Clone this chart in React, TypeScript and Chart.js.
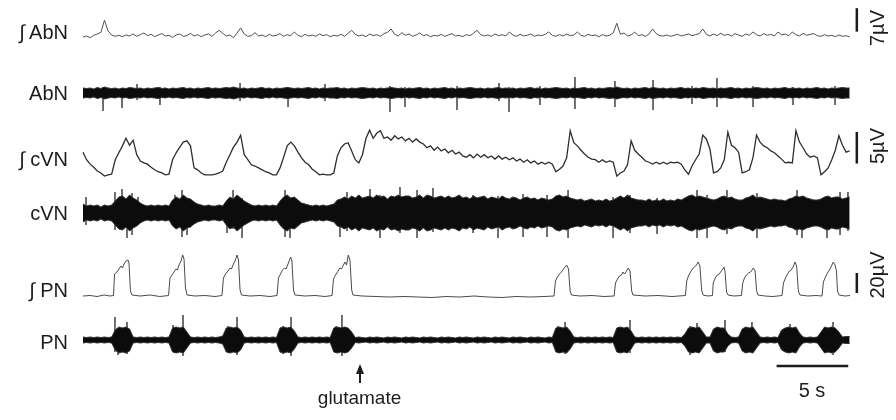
import React, { useEffect, useRef } from "react";
import { Chart, registerables } from "chart.js";

Chart.register(...registerables);

// ---------- DATA (time in s, integrated traces in µV, raw traces in arbitrary units) ----------
const SAMPLE_DT = 0.25; // sampling interval of the uniformly sampled arrays (s)

// ∫AbN (µV), one value every 0.25 s
const intAbN = [
  0.0, 0.3, -0.2, 0.5, 0.9, 1.4, 5.0, 1.8, 0.6, 0.2,
  0.5, 0.1, 0.6, 0.3, 0.9, 0.2, 0.7, 1.2, 0.4, 0.8,
  0.1, 0.6, 1.0, 0.3, 0.5, -0.1, 0.6, 0.9, 0.2, 0.4,
  1.1, 0.3, 0.7, 0.1, 0.6, 0.9, 0.2, 1.2, 2.0, 1.1,
  0.3, 0.6, -0.2, 1.2, 2.7, 0.9, 0.2, 0.4, 1.3, 0.3,
  0.6, 0.1, 0.8, 0.3, 0.5, 1.0, 0.2, 0.7, 0.4, 1.5,
  0.5, 0.1, 0.8, 0.3, 0.6, 0.2, 0.9, 0.4, 0.7, 0.1,
  0.5, 0.3, 0.8, 0.2, 1.1, 2.0, 0.8, 0.3, 0.6, 0.1,
  0.9, 0.4, 0.7, 0.2, 1.0, 1.4, 2.4, 0.8, 0.3, 1.3,
  0.5, 0.9, 0.2, 0.6, 1.2, 0.4, 0.7, 0.1, 0.5, 0.3,
  0.8, 0.2, 0.6, 1.0, 0.3, 0.5, 0.1, 0.7, 0.4, 1.1,
  2.0, 0.7, 0.3, 0.6, 0.2, 0.9, 0.4, 0.7, 0.3, 1.5,
  0.6, 0.2, 0.8, 0.3, 0.5, 0.9, 0.2, 0.6, 0.4, 0.8,
  1.5, 0.5, 0.2, 0.7, 0.3, 0.9, 0.4, 0.6, 1.5, 0.5,
  0.2, 0.8, 0.4, 0.6, 0.1, 0.7, 0.3, 0.5, 1.2, 4.1,
  0.8, 1.2, 0.3, 0.6, 1.5, 0.4, 0.7, 0.2, 0.9, 2.4,
  1.0, 0.4, 0.3, 0.6, 0.2, 0.5, 0.8, 0.3, 0.6, 0.9,
  0.4, 0.7, 1.0, 2.4, 0.8, 0.3, 0.9, 0.4, 1.1, 0.5,
  0.8, 0.3, 1.0, 0.6, 0.2, 0.9, 0.5, 1.5, 0.7, 0.3,
  1.0, 0.5, 0.8, 0.3, 1.5, 0.6, 0.9, 0.4, 1.5, 0.7,
  0.3, 1.1, 0.5, 0.8, 1.0, 0.4, 0.2, 0.7, 0.3, 0.5,
  0.1, 0.6, 0.2, 0.4, 0.0,
];

// AbN raw: dense-band half amplitude every 0.25 s
const abnBand = [
  5, 4.5, 5, 4, 5.5, 4.5, 6, 5, 4.5, 5, 4, 5, 4.5, 5.5, 5, 4.5, 5, 4, 5, 4.5,
  5, 5.5, 4.5, 5, 4, 5, 4.5, 5, 5.5, 4.5, 5, 4, 5, 4.5, 5, 5.5, 4.5, 5, 4.5, 5,
  5.5, 5, 6, 5, 4.5, 5, 4, 5, 4.5, 5, 5.5, 4.5, 5, 4, 5, 4.5, 5, 5.5, 5, 4.5,
  5, 4.5, 5, 5.5, 4.5, 5, 4, 5, 4.5, 5, 5, 5.5, 4.5, 5, 4, 5, 4.5, 5, 5.5, 5,
  4.5, 5, 4, 5, 4.5, 5, 5.5, 5, 4.5, 5, 4, 5, 4.5, 5, 5.5, 4.5, 5, 4, 5, 4.5,
  5, 5.5, 4.5, 5, 4, 5, 4.5, 5, 5.5, 5, 4.5, 5, 4, 5, 4.5, 5, 5.5, 4.5, 5, 4.5,
  5, 4, 5, 4.5, 5, 5.5, 4.5, 5, 4, 5, 4.5, 5, 5.5, 5, 4.5, 5, 4, 5, 4.5, 5,
  5.5, 4.5, 5, 4, 5, 4.5, 5, 5.5, 5, 6, 5, 4.5, 5, 4, 5, 4.5, 5, 5.5, 4.5, 5.5,
  5, 4.5, 5, 4, 5, 4.5, 5, 5.5, 4.5, 5, 4, 5, 4.5, 5.5, 5, 4.5, 5, 4, 5, 4.5,
  5, 5.5, 4.5, 5, 4, 5, 4.5, 5, 5.5, 5, 4.5, 5, 4, 5, 4.5, 5, 5.5, 4.5, 5, 4.5,
  5, 4, 5, 4.5, 5, 5.5, 4.5, 5, 4, 5, 4.5, 5, 5.5, 5, 5,
];
// AbN single large spikes: time (s), upward and downward extent
const abnSpikeTimes = [1.4, 2.72, 3.77, 5.37, 10.96, 14.31, 16.89, 21.42, 22.47, 26.1, 29.03, 29.73, 31.89, 34.33, 37.12, 39.78, 42.5, 44.24, 46.76, 49.55, 52.48];
const abnSpikeUp = [6, 5, 9, 6, 10, 6, 9, 7, 6, 7, 10, 6, 7, 16, 12, 13, 7, 15, 7, 6, 7];
const abnSpikeDown = [-18, -15, -7, -12, -8, -14, -8, -19, -14, -17, -8, -19, -12, -16, -14, -17, -11, -14, -14, -12, -12];

// ∫cVN (µV), one value every 0.25 s
const intCvn = [
  4.1, 2.9, 2.2, 1.7, 1.1, 0.8, 0.3, 0.5, 0.6, 2.9,
  4.0, 5.1, 6.3, 5.2, 6.0, 3.7, 2.7, 2.4, 2.2, 1.7,
  1.3, 1.0, 0.8, 0.5, 0.6, 2.9, 4.0, 4.9, 5.7, 5.9,
  5.1, 1.6, 1.3, 0.8, 0.5, 0.5, 0.5, 0.6, 0.8, 1.1,
  2.5, 3.7, 4.9, 5.7, 6.8, 3.7, 2.9, 2.1, 1.9, 1.6,
  1.3, 1.0, 0.8, 0.5, 0.5, 1.6, 3.3, 5.1, 5.7, 5.1,
  4.1, 3.2, 2.5, 2.1, 1.4, 1.0, 0.5, 0.6, 0.5, 0.5,
  0.8, 3.5, 4.8, 5.4, 5.6, 4.3, 2.9, 2.4, 3.7, 6.3,
  7.6, 6.3, 7.1, 7.5, 6.3, 6.5, 6.0, 6.7, 6.2, 6.5,
  5.9, 6.3, 5.7, 6.2, 5.7, 5.4, 4.8, 5.1, 4.4, 4.9,
  4.3, 4.6, 4.0, 4.4, 3.8, 4.1, 3.5, 3.3, 3.7, 3.2,
  3.8, 3.3, 3.7, 3.2, 3.5, 3.0, 3.5, 3.0, 3.3, 2.9,
  3.2, 2.7, 3.0, 2.5, 2.9, 2.4, 2.7, 2.2, 2.5, 2.2,
  2.5, 2.2, 1.0, 1.4, 1.9, 3.2, 7.5, 5.6, 5.1, 4.4,
  3.8, 3.3, 3.0, 2.9, 2.5, 2.9, 2.5, 2.7, 2.5, 0.3,
  0.8, 1.1, 2.1, 5.9, 4.4, 3.8, 3.3, 2.7, 2.5, 2.2,
  2.5, 2.2, 2.5, 2.2, 2.5, 2.4, 2.5, 2.2, 1.3, 0.6,
  1.9, 2.9, 3.8, 6.8, 6.2, 4.6, 0.8, 1.0, 1.6, 2.9,
  7.3, 5.2, 4.8, 4.1, 0.8, 1.0, 1.3, 3.2, 6.8, 5.7,
  5.1, 4.8, 4.3, 4.0, 3.5, 3.0, 2.4, 2.5, 2.4, 7.5,
  5.7, 4.8, 3.8, 3.3, 3.5, 3.2, 0.5, 1.0, 1.6, 2.9,
  4.4, 6.7, 5.2, 4.1, 4.3,
];

// cVN raw: dense-band half amplitude every 0.25 s
const cvnBand = [
  9, 7, 8, 7, 8, 6, 8, 7, 8,
  12, 16, 17, 14, 18, 15, 13, 10,
  8, 7, 8, 7, 8, 7, 8, 7,
  13, 16, 14, 18, 15, 14, 11, 9,
  8, 7, 8, 7, 7, 8, 7,
  12, 16, 14, 18, 15, 12, 10,
  8, 7, 8, 7, 8, 7, 8, 7,
  12, 16, 18, 15, 16, 13, 10, 9,
  8, 7, 8, 7, 8, 7, 8, 9,
  13, 14, 16, 14, 17, 15, 18, 15, 16, 17,
  15, 18, 16, 17, 14, 17, 16, 18, 16, 17,
  17, 15, 16, 18, 15, 18, 17, 15, 16, 17,
  15, 17, 15, 16, 18, 15, 16, 14, 17, 15,
  16, 17, 14, 16, 15, 14, 17, 15, 14, 16,
  15, 13, 15, 16, 14, 15, 13, 15, 14, 13,
  14,
  17, 18, 16, 17, 15, 14,
  13, 14, 12, 13, 14, 12, 13, 12, 14, 12, 13,
  15, 17, 15, 18, 15, 14, 13,
  13, 12, 14, 12, 13, 12, 14, 12, 13, 12, 14, 13,
  15, 17, 18, 16, 17, 16, 15, 14, 13,
  14, 16, 17, 15, 16, 14, 13, 13,
  15, 16, 18, 15, 16, 15, 14, 13, 14, 13,
  13, 12, 14,
  15, 17, 16, 17, 15, 14, 13, 13,
  14, 16, 17, 15, 16, 16, 14, 15, 16,
];
const cvnSpikeTimes = [0.21, 2.23, 2.72, 3.07, 3.42, 3.84, 6.42, 6.91, 7.26, 10.05, 10.47, 11.1, 14.1, 14.45, 17.93, 18.42, 20.03, 20.73, 22.12, 23.31, 24.42, 27.22, 28.96, 30.71, 32.38, 33.85, 36.99, 38.17, 40.06, 42.85, 43.55, 44.94, 47.03, 49.83, 50.17, 51.92, 52.83, 53.38];
const cvnSpikeUp = [16, 21, 24, 14, 20, 16, 18, 23, 14, 12, 23, 15, 23, 15, 14, 21, 24, 18, 26, 23, 25, 18, 17, 19, 18, 23, 16, 18, 15, 23, 18, 23, 20, 23, 17, 16, 21, 21];
const cvnSpikeDown = [-12, -17, -14, -25, -22, -12, -14, -24, -22, -20, -16, -25, -24, -25, -24, -18, -17, -25, -20, -25, -19, -20, -25, -24, -24, -25, -25, -20, -21, -25, -25, -21, -25, -22, -25, -25, -22, -18];

// ∫PN (µV): sample times (s) and values
const intPnTimes = [
  0, 0.49, 0.98, 1.47, 1.88, 2.13,
  2.2, 2.37, 2.51, 2.65, 2.76, 2.86, 3.0, 3.14, 3.21, 3.31, 3.42,
  3.98, 4.68, 5.37, 5.97,
  6.07, 6.21, 6.35, 6.49, 6.59, 6.7, 6.84, 6.96, 7.05, 7.15, 7.26,
  7.82, 8.51, 9.21, 9.7,
  9.8, 9.94, 10.12, 10.26, 10.36, 10.47, 10.61, 10.75, 10.85, 10.96, 11.06,
  11.65, 12.35, 13.05, 13.54,
  13.64, 13.78, 13.92, 14.06, 14.17, 14.31, 14.41, 14.49, 14.58, 14.69, 14.79,
  15.49, 16.19, 16.89, 17.38,
  17.48, 17.62, 17.8, 17.93, 18.04, 18.14, 18.28, 18.39, 18.51, 18.63, 18.75, 18.84,
  19.47, 20.45, 21.42, 22.4, 23.38, 24.35, 25.33, 26.31, 27.29, 28.26, 29.24, 30.22, 31.19, 32.17, 32.87,
  32.97, 33.11, 33.25, 33.39, 33.53, 33.64, 33.75, 33.88, 33.99, 34.09,
  34.68, 35.52, 36.36, 37.06,
  37.16, 37.3, 37.44, 37.58, 37.68, 37.79, 37.93, 38.05, 38.17, 38.29, 38.38,
  39.22, 40.13, 41.1, 42.04,
  42.13, 42.25, 42.39, 42.53, 42.67, 42.81, 42.93, 43.05, 43.17, 43.27,
  43.61, 43.93,
  43.98, 44.12, 44.26, 44.4, 44.54, 44.66, 44.73, 44.8, 44.91, 45.01,
  45.43, 45.95,
  46.04, 46.16, 46.3, 46.44, 46.58, 46.69, 46.78, 46.9, 47.01, 47.1,
  47.59, 48.15, 48.78,
  48.88, 49.02, 49.16, 49.3, 49.41, 49.55, 49.69, 49.8, 49.92, 50.03,
  50.59, 51.15, 51.57,
  51.67, 51.81, 51.95, 52.09, 52.23, 52.36, 52.48, 52.58, 52.65, 52.76,
  53.18, 53.52,
];
const intPnValues = [
  0, 0.5, -0.5, 1, 0, 0.5,
  22, 24, 27, 30, 28, 32, 35, 36, 33, 5, 1,
  0, 1, -0.5, 0.5,
  18, 21, 24, 27, 26, 31, 35, 41, 37, 8, 1,
  0, 0.5, -0.5, 0.5,
  18, 22, 25, 28, 27, 31, 35, 41, 36, 6, 1,
  0, 0.5, -0.5, 0.5,
  18, 22, 26, 28, 27, 32, 36, 39, 35, 6, 1,
  0, 0.5, -0.5, 0.5,
  17, 21, 25, 28, 27, 30, 34, 31, 41, 36, 6, 1,
  0, -0.5, -1, -0.5, -1, -1.5, -0.5, -1, 0, -1, -1.5, -0.5, -1, -0.5, 0,
  15, 19, 22, 24, 27, 29, 31, 27, 5, 1,
  0, 0.5, -0.5, 0,
  13, 17, 20, 21, 24, 22, 25, 28, 25, 5, 1,
  0, 0.5, -0.5, 0.5,
  15, 20, 24, 27, 29, 31, 34, 30, 6, 1,
  0, 0.5,
  13, 18, 21, 22, 25, 27, 29, 25, 4, 1,
  0, 0.5,
  13, 18, 21, 23, 24, 26, 28, 25, 5, 1,
  0, -0.5, 0.5,
  13, 18, 22, 25, 26, 29, 34, 30, 5, 1,
  0, 0.5, 0,
  14, 19, 23, 26, 30, 34, 31, 25, 5, 1,
  0, 0.5,
];

// PN raw: dense-band half amplitude every 0.25 s
const pnBand = [
  3, 2.5, 3, 2.5, 3, 2.5, 3, 2.5, 3,
  10, 13, 12, 13, 11,
  3, 2.5, 3, 2.5, 3, 2.5, 3, 2.5, 3, 2.5,
  3, 12, 13, 12, 13, 8,
  3, 2.5, 3, 2.5, 3, 2.5, 3, 2.5, 3,
  4, 12, 13, 12, 13, 10,
  3, 2.5, 3, 2.5, 3, 2.5, 3, 2.5, 3, 2.5,
  12, 13, 12, 13, 9,
  3, 2.5, 3, 2.5, 3, 2.5, 3, 2.5, 3, 2.5,
  12, 13, 12, 13, 12, 8,
  2.5, 3, 2.5, 2, 3, 2.5, 3, 2.5, 2, 3,
  2.5, 3, 2.5, 2, 3, 2.5, 3, 2.5, 2, 3,
  2.5, 3, 2.5, 2, 3, 2.5, 3, 2.5, 2, 3,
  2.5, 3, 2.5, 2, 3, 2.5, 3, 2.5, 2, 3,
  2.5, 3, 2.5, 2, 3, 2.5, 3, 2.5, 2, 3,
  2.5, 3, 2.5, 2, 3, 2.5,
  12, 13, 12, 13, 9,
  3, 2.5, 3, 2.5, 3, 2.5, 3, 2.5, 3, 2.5, 3, 2.5,
  12, 13, 12, 13, 9,
  3, 2.5, 3, 2.5, 3, 2.5, 3, 2.5, 3, 2.5, 3, 2.5, 3, 2.5,
  6, 12, 13, 12, 13, 8,
  3, 3,
  11, 13, 12, 12, 6,
  3, 2.5, 3,
  11, 13, 12, 13, 8,
  3, 2.5, 3, 2.5, 3, 2.5,
  10, 12, 13, 12, 13, 7,
  3, 2.5, 3, 2.5, 3,
  8, 13, 12, 13, 12, 8,
  3, 3.5, 3.5,
];
const pnSpikeTimes = [2.23, 2.44, 3.07, 6.28, 6.98, 10.12, 10.75, 13.96, 14.52, 17.66, 18.07, 33.15, 33.64, 37.47, 38.17, 42.36, 42.85, 44.17, 44.8, 46.34, 46.68, 49.13, 49.34, 51.92, 52.34];
const pnSpikeUp = [23, 12, 18, 15, 25, 14, 23, 14, 23, 14, 25, 14, 18, 13, 20, 14, 17, 12, 20, 12, 18, 12, 16, 12, 18];
const pnSpikeDown = [-12, -15, -14, -12, -16, -13, -15, -14, -16, -13, -16, -13, -14, -12, -13, -15, -12, -11, -12, -12, -13, -12, -13, -11, -15];

// Scale bars: [start, end] in each trace's units
const barIntAbN = [1.6, 8.6]; // 7 µV
const barIntCvn = [2.3, 7.3]; // 5 µV
const barIntPn = [3, 23]; // 20 µV
const barTime = [48.4, 53.4]; // 5 s
const BAR_T = 54.0; // time position of the vertical bars
const GLUTAMATE_T = 19.3;

// ---------- LAYOUT ----------
const W = 896;
const H = 420;
const PLOT_LEFT = 83; // px of t = 0
const PX_PER_S = 14.33;
// vertical position of each trace's zero (px) and pixels per unit
const ROWS: Record<string, { c: number; k: number }> = {
  yIntAbN: { c: 37, k: 3.35 },
  yAbN: { c: 93, k: 1 },
  yIntCvn: { c: 178, k: 6.3 },
  yCvn: { c: 213, k: 1 },
  yIntPn: { c: 296, k: 1 },
  yPn: { c: 340, k: 1 },
};
const TIME_BAR_LEVEL = -26; // on the PN axis

const INK = "#1c1c1c";

function sampled(vals: number[], sign = 1) {
  return vals.map((v, i) => ({ x: i * SAMPLE_DT, y: sign * v }));
}
function spikeSegments(ts: number[], up: number[], dn: number[]) {
  const out: { x: number; y: number | null }[] = [];
  ts.forEach((t, i) => {
    out.push({ x: t, y: up[i] }, { x: t, y: dn[i] }, { x: t, y: null });
  });
  return out;
}

function lineDs(data: any[], axis: string, color: string, width: number, extra: any = {}) {
  return {
    type: "line",
    data,
    yAxisID: axis,
    borderColor: color,
    borderWidth: width,
    pointRadius: 0,
    tension: 0,
    fill: false,
    spanGaps: false,
    ...extra,
  };
}

function rawBand(band: number[], axis: string) {
  return [
    lineDs(sampled(band, 1), axis, "#333", 1, { fill: "origin", backgroundColor: "#0c0c0c" }),
    lineDs(sampled(band, -1), axis, "#333", 1, { fill: "origin", backgroundColor: "#0c0c0c" }),
  ];
}

export default function App() {
  const ref = useRef<HTMLCanvasElement | null>(null);

  useEffect(() => {
    if (!ref.current) return;
    const scales: any = {
      x: {
        type: "linear",
        display: false,
        min: -PLOT_LEFT / PX_PER_S,
        max: (W - PLOT_LEFT) / PX_PER_S,
      },
    };
    Object.entries(ROWS).forEach(([id, r]) => {
      scales[id] = { type: "linear", display: false, min: -(H - r.c) / r.k, max: r.c / r.k };
    });

    // Chart.js draws lower-index datasets on top: bands come before their spikes
    const datasets: any[] = [
      lineDs(sampled(intAbN), "yIntAbN", "#505050", 1),
      ...rawBand(abnBand, "yAbN"),
      lineDs(spikeSegments(abnSpikeTimes, abnSpikeUp, abnSpikeDown), "yAbN", "#5c5c5c", 1),
      lineDs(sampled(intCvn), "yIntCvn", "#2e2e2e", 1.3),
      ...rawBand(cvnBand, "yCvn"),
      lineDs(spikeSegments(cvnSpikeTimes, cvnSpikeUp, cvnSpikeDown), "yCvn", "#5c5c5c", 1),
      lineDs(intPnTimes.map((t, i) => ({ x: t, y: intPnValues[i] })), "yIntPn", "#4a4a4a", 1),
      ...rawBand(pnBand, "yPn"),
      lineDs(spikeSegments(pnSpikeTimes, pnSpikeUp, pnSpikeDown), "yPn", "#5c5c5c", 1),
      // scale bars
      lineDs(barIntAbN.map((v) => ({ x: BAR_T, y: v })), "yIntAbN", INK, 2.5),
      lineDs(barIntCvn.map((v) => ({ x: BAR_T, y: v })), "yIntCvn", INK, 2.5),
      lineDs(barIntPn.map((v) => ({ x: BAR_T, y: v })), "yIntPn", INK, 2.5),
      lineDs(barTime.map((t) => ({ x: t, y: TIME_BAR_LEVEL })), "yPn", INK, 2.5),
    ];

    const chart = new Chart(ref.current, {
      type: "line",
      data: { datasets },
      options: {
        animation: false,
        responsive: false,
        devicePixelRatio: 1,
        events: [],
        layout: { padding: 0 },
        plugins: { legend: { display: false }, tooltip: { enabled: false } },
        scales,
      },
    } as any);
    return () => chart.destroy();
  }, []);

  const font = '"Liberation Sans", Arial, Helvetica, sans-serif';
  const labels = [
    { text: "∫ AbN", y: 32 },
    { text: "AbN", y: 93 },
    { text: "∫ cVN", y: 159 },
    { text: "cVN", y: 213 },
    { text: "∫ PN", y: 290 },
    { text: "PN", y: 342 },
  ];
  const vLabels = [
    { text: "7µV", y: 28 },
    { text: "5µV", y: 146 },
    { text: "20µV", y: 275 },
  ];
  const arrowX = PLOT_LEFT + GLUTAMATE_T * PX_PER_S;

  return (
    <div style={{ position: "absolute", left: 0, top: 0, width: W, height: H, background: "#fff", overflow: "hidden", fontFamily: font, color: INK }}>
      <canvas ref={ref} width={W} height={H} style={{ position: "absolute", left: 0, top: 0, width: W, height: H, display: "block" }} />
      {labels.map((l) => (
        <div key={l.text} style={{ position: "absolute", right: W - 68, top: l.y - 10, fontSize: 20, lineHeight: "20px", whiteSpace: "nowrap" }}>
          {l.text}
        </div>
      ))}
      {vLabels.map((l) => (
        <div key={l.text} style={{ position: "absolute", left: 877, top: l.y, fontSize: 20, lineHeight: "20px", whiteSpace: "nowrap", transform: "translate(-50%, -50%) rotate(-90deg)" }}>
          {l.text}
        </div>
      ))}
      <div style={{ position: "absolute", left: 812, top: 380, transform: "translateX(-50%)", fontSize: 20, lineHeight: "20px", whiteSpace: "nowrap" }}>5 s</div>
      <svg width={20} height={26} style={{ position: "absolute", left: arrowX - 10, top: 361 }}>
        <polygon points="10,3 6,13 14,13" fill={INK} />
        <rect x={9} y={11} width={2} height={11} fill={INK} />
      </svg>
      <div style={{ position: "absolute", left: arrowX, top: 388, transform: "translateX(-50%)", fontSize: 19, lineHeight: "20px", whiteSpace: "nowrap" }}>glutamate</div>
    </div>
  );
}
